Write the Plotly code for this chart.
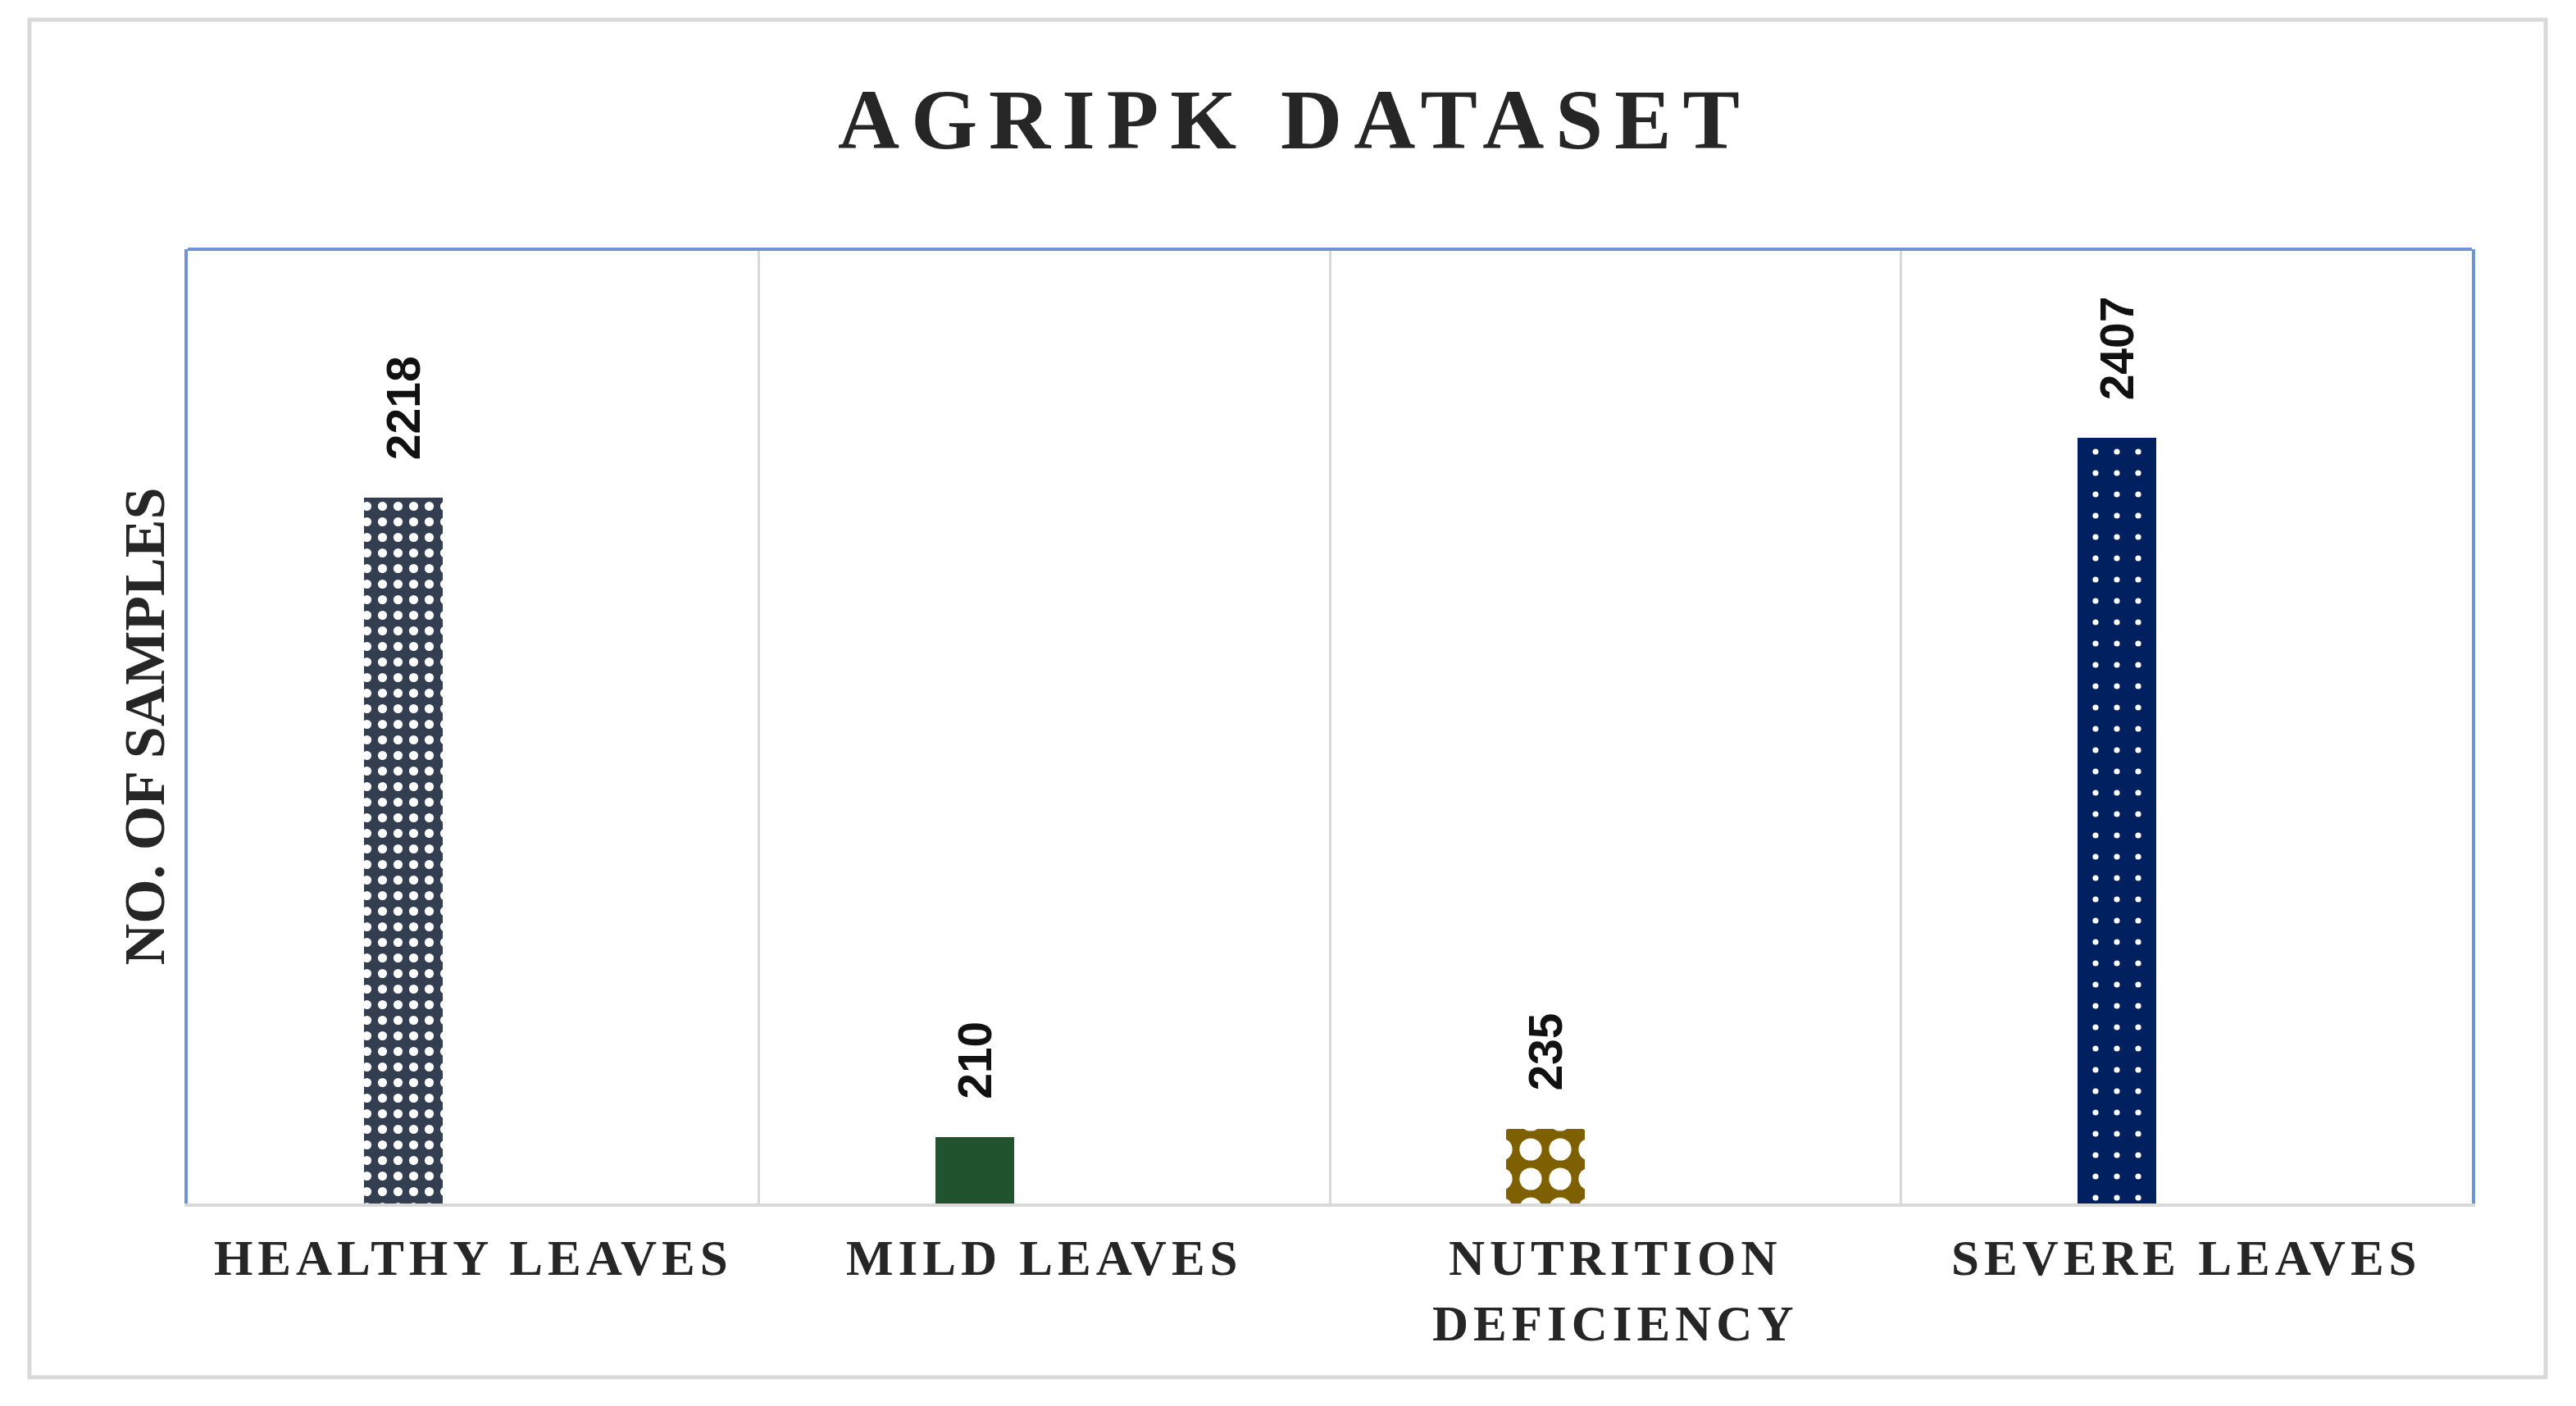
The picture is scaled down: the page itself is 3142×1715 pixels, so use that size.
import plotly.graph_objects as go

# ---- data ----
categories = ["HEALTHY LEAVES", "MILD LEAVES", "NUTRITION DEFICIENCY", "SEVERE LEAVES"]
tick_lines = [["HEALTHY LEAVES"], ["MILD LEAVES"], ["NUTRITION", "DEFICIENCY"], ["SEVERE LEAVES"]]
samples = [2218, 210, 235, 2407]

chart_title = "AGRIPK DATASET"
y_title = "NO. OF SAMPLES"

# ---- styles ----
bar_colors = ["#333f50", "#22532f", "#7f6000", "#002060"]
pat_shape = [".", "", ".", "."]
pat_fg = ["#ffffff", "#22532f", "#ffffff", "#ffffff"]
pat_size = [19, 10, 36, 26]
pat_solid = [0.27, 0.3, 0.45, 0.06]

BAR_WIDTH = 0.138
BAR_OFFSET = -0.191
TEXT_COLOR = "#262626"
BLUE = "#7094d3"
GRAY = "#d9d9d9"


def spaced(s, px):
    return '<span style="letter-spacing:%dpx">%s</span>' % (px, s)


ticktext = ["<br>".join(spaced(l, 6) for l in lines) for lines in tick_lines]

fig = go.Figure()
for i, cat in enumerate(categories):
    fig.add_trace(go.Bar(
        x=[cat],
        y=[samples[i]],
        width=BAR_WIDTH,
        offset=BAR_OFFSET,
        marker=dict(
            color=bar_colors[i],
            line=dict(width=0),
            pattern=dict(shape=pat_shape[i], fgcolor=pat_fg[i], fgopacity=1,
                         size=pat_size[i], solidity=pat_solid[i], fillmode="overlay"),
        ),
        showlegend=False,
        name=cat,
    ))

annotations = []
for i, v in enumerate(samples):
    annotations.append(dict(
        x=i + BAR_OFFSET + BAR_WIDTH / 2, y=v, xref="x", yref="y",
        text=str(v), textangle=-90, showarrow=False,
        xanchor="center", yanchor="bottom", yshift=44,
        font=dict(family="Liberation Sans", size=57, color="#111111", weight="bold"),
    ))

shapes = [
    # outer chart border
    dict(type="rect", xref="paper", yref="paper",
         x0=-0.0693, x1=1.0323, y0=-0.1821, y1=1.2405,
         line=dict(color=GRAY, width=5), fillcolor="rgba(0,0,0,0)", layer="below"),
    # top border of plot area
    dict(type="line", xref="paper", yref="paper", x0=0, x1=1, y0=1, y1=1,
         line=dict(color=BLUE, width=4), layer="above"),
]

fig.update_layout(
    width=3142, height=1715,
    margin=dict(l=221, r=135, t=296, b=255, pad=0),
    paper_bgcolor="white", plot_bgcolor="white",
    barmode="overlay",
    title=dict(
        text=spaced(chart_title, 14),
        font=dict(family="Liberation Serif", size=104, color=TEXT_COLOR, weight="bold"),
        x=0.5, xanchor="center", xref="container",
        y=1 - 137 / 1715, yanchor="middle", yref="container",
    ),
    xaxis=dict(
        type="category", range=[-0.5, 3.5],
        categoryorder="array", categoryarray=categories,
        tickmode="array", tickvals=categories, ticktext=ticktext,
        showgrid=True, gridcolor=GRAY, gridwidth=3, tickson="boundaries",
        showline=True, linecolor=GRAY, linewidth=4,
        ticks="", ticklabelstandoff=10,
        tickfont=dict(family="Liberation Serif", size=61, color=TEXT_COLOR, weight="bold"),
        zeroline=False,
    ),
    yaxis=dict(
        range=[0, 3000], showticklabels=False, showgrid=False, zeroline=False,
        showline=True, mirror=True, linecolor=BLUE, linewidth=4, ticks="",
        title=dict(text=y_title, standoff=3,
                   font=dict(family="Liberation Serif", size=70, color=TEXT_COLOR, weight="bold")),
    ),
    annotations=annotations,
    shapes=shapes,
    bargap=0,
)

fig.write_html("out.html")
